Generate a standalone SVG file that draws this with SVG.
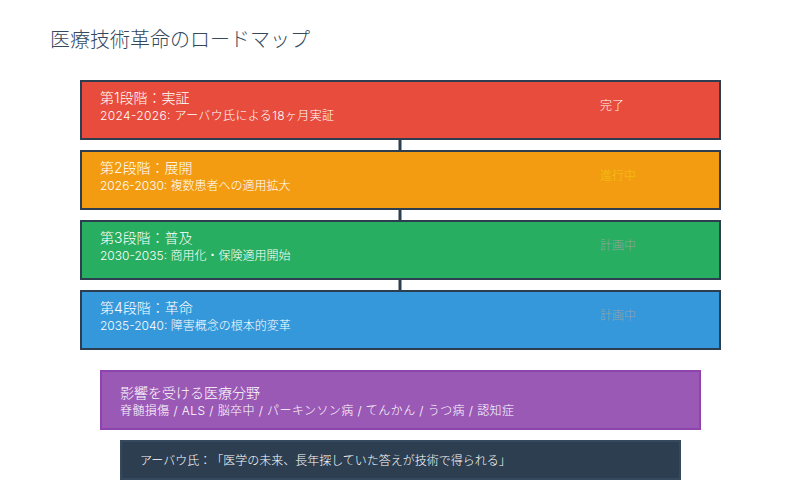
<svg xmlns="http://www.w3.org/2000/svg" width="800" height="500" viewBox="0 0 800 500">
<style>
text{font-family:Inter,"Noto Sans CJK JP",sans-serif;font-weight:300;text-spacing-trim:space-all}
.t{font-size:20px;fill:#34495e}
.h{font-size:14px;fill:#ffffff}
.s{font-size:12px;fill:#ffffff}
.stage{stroke:#2c3e50;stroke-width:2}
.conn{stroke:#2c3e50;stroke-width:3}
.done{fill:#ffffff}
.prog{fill:#f1c40f}
.plan{fill:#95a5a6}
</style>
<rect width="800" height="500" fill="#ffffff"/>
<text class="t" x="50" y="47">医療技術革命のロードマップ</text>
<g id="connectors">
<line class="conn" x1="400" y1="140" x2="400" y2="150"/>
<line class="conn" x1="400" y1="210" x2="400" y2="220"/>
<line class="conn" x1="400" y1="280" x2="400" y2="290"/>
</g>
<g id="stage1">
<rect class="stage" x="81" y="81" width="639" height="58" fill="#e74c3c"/>
<text class="h" x="100" y="103">第1段階：実証</text>
<text class="s" x="100" y="120" textLength="234" lengthAdjust="spacing">2024-2026: アーバウ氏による18ヶ月実証</text>
<text class="s done" x="600" y="110">完了</text>
</g>
<g id="stage2">
<rect class="stage" x="81" y="151" width="639" height="58" fill="#f39c12"/>
<text class="h" x="100" y="173">第2段階：展開</text>
<text class="s" x="100" y="190">2026-2030: 複数患者への適用拡大</text>
<text class="s prog" x="600" y="180">進行中</text>
</g>
<g id="stage3">
<rect class="stage" x="81" y="221" width="639" height="58" fill="#27ae60"/>
<text class="h" x="100" y="243">第3段階：普及</text>
<text class="s" x="100" y="260">2030-2035: 商用化・保険適用開始</text>
<text class="s plan" x="600" y="250">計画中</text>
</g>
<g id="stage4">
<rect class="stage" x="81" y="291" width="639" height="58" fill="#3498db"/>
<text class="h" x="100" y="313">第4段階：革命</text>
<text class="s" x="100" y="330">2035-2040: 障害概念の根本的変革</text>
<text class="s plan" x="600" y="320">計画中</text>
</g>
<g id="fields">
<rect x="101" y="371" width="599" height="58" fill="#9b59b6" stroke="#8e44ad" stroke-width="2"/>
<text class="h" x="120" y="398">影響を受ける医療分野</text>
<text class="s" x="120" y="415" textLength="394" lengthAdjust="spacing">脊髄損傷 / ALS / 脳卒中 / パーキンソン病 / てんかん / うつ病 / 認知症</text>
</g>
<g id="quote">
<rect x="121" y="441" width="559" height="38" fill="#2c3e50" stroke="#34495e" stroke-width="2"/>
<text class="s" x="140" y="465">アーバウ氏：「医学の未来、長年探していた答えが技術で得られる」</text>
</g>
</svg>
